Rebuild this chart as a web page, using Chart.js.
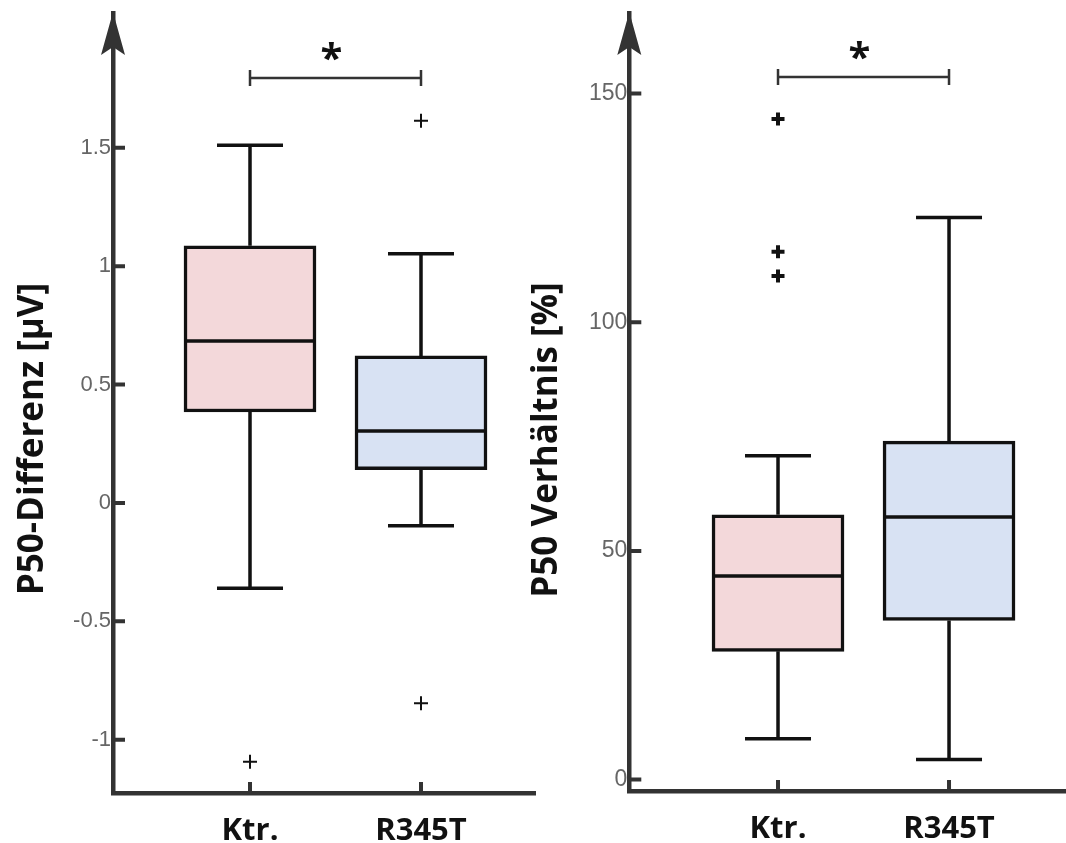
<!DOCTYPE html>
<html>
<head>
<meta charset="utf-8">
<script src="https://cdn.jsdelivr.net/npm/chart.js@4.4.0/dist/chart.umd.min.js"></script>
<style>
  body { margin: 0; background: #fff; }
  #contenedor { position: relative; width: 1066px; height: 843px; }
  canvas { position: absolute; top: 0; }
</style>
</head>
<body>
<div id="contenedor">
  <canvas id="graficoDiferencia" width="536" height="843" style="left:0"></canvas>
  <canvas id="graficoRelacion" width="546" height="843" style="left:520px"></canvas>
</div>
<script>
const grupos = ['Ktr.', 'R345T'];
const coloresCajas = ['#f3d8da', '#d8e2f3'];

// P50-Differenz [µV]
const difMinimos = [-0.36, -0.096];
const difQ1 = [0.384, 0.14];
const difMedianas = [0.684, 0.304];
const difQ3 = [1.086, 0.621];
const difMaximos = [1.51, 1.052];
const difAtipicos = [[-1.093], [1.614, -0.846]];
const difTicks = [-1, -0.5, 0, 0.5, 1, 1.5];
const difSignificancia = 1.795;

// P50 Verhältnis [%]
const relMinimos = [8.96, 4.37];
const relQ1 = [28.05, 34.8];
const relMedianas = [44.5, 57.4];
const relQ3 = [57.9, 74.0];
const relMaximos = [70.8, 122.9];
const relAtipicos = [[144.4, 115.4, 110.1], []];
const relTicks = [0, 50, 100, 150];
const relSignificancia = 153.6;

const extrasBoxplot = {
    id: 'extrasBoxplot',
    afterDatasetsDraw(chart, args, opts) {
        const ctx = chart.ctx;
        const escalaY = chart.scales.y;
        const cajas = chart.getDatasetMeta(0).data;
        ctx.save();
        ctx.strokeStyle = '#111';
        ctx.lineWidth = 3.5;
        cajas.forEach((caja, i) => {
            const cx = caja.x;
            const mitad = caja.width / 2;
            const yMed = escalaY.getPixelForValue(opts.medianas[i]);
            const yQ1 = escalaY.getPixelForValue(opts.q1[i]);
            const yQ3 = escalaY.getPixelForValue(opts.q3[i]);
            const yMin = escalaY.getPixelForValue(opts.minimos[i]);
            const yMax = escalaY.getPixelForValue(opts.maximos[i]);
            const bigote = 33;
            ctx.beginPath();
            ctx.moveTo(cx - mitad + 2, yMed);
            ctx.lineTo(cx + mitad - 2, yMed);
            ctx.moveTo(cx, yQ3);
            ctx.lineTo(cx, yMax);
            ctx.moveTo(cx - bigote, yMax);
            ctx.lineTo(cx + bigote, yMax);
            ctx.moveTo(cx, yQ1);
            ctx.lineTo(cx, yMin);
            ctx.moveTo(cx - bigote, yMin);
            ctx.lineTo(cx + bigote, yMin);
            ctx.stroke();
        });
        ctx.restore();
    },
    afterDraw(chart, args, opts) {
        const ctx = chart.ctx;
        const area = chart.chartArea;
        const escalaX = chart.scales.x;
        const escalaY = chart.scales.y;
        ctx.save();
        // marcas de los ejes hacia dentro
        ctx.strokeStyle = '#333';
        ctx.lineWidth = 4;
        ctx.beginPath();
        escalaY.ticks.forEach(t => {
            const py = escalaY.getPixelForValue(t.value);
            ctx.moveTo(area.left, py);
            ctx.lineTo(area.left + 12, py);
        });
        escalaX.ticks.forEach(t => {
            const px = escalaX.getPixelForValue(t.value);
            ctx.moveTo(px, area.bottom);
            ctx.lineTo(px, area.bottom - 11);
        });
        ctx.stroke();
        // flecha del eje y
        ctx.fillStyle = '#333';
        ctx.beginPath();
        ctx.moveTo(area.left, area.top - 1);
        ctx.lineTo(area.left + 12, area.top + 42);
        ctx.lineTo(area.left, area.top + 34);
        ctx.lineTo(area.left - 12, area.top + 42);
        ctx.closePath();
        ctx.fill();
        // corchete de significancia
        const x1 = escalaX.getPixelForValue(1);
        const x2 = escalaX.getPixelForValue(2);
        const yc = escalaY.getPixelForValue(opts.significancia);
        ctx.strokeStyle = '#333';
        ctx.lineWidth = 2.5;
        ctx.beginPath();
        ctx.moveTo(x1, yc);
        ctx.lineTo(x2, yc);
        ctx.moveTo(x1, yc - 8);
        ctx.lineTo(x1, yc + 8);
        ctx.moveTo(x2, yc - 8);
        ctx.lineTo(x2, yc + 8);
        ctx.stroke();
        ctx.fillStyle = '#111';
        ctx.font = 'bold 40px "Open Sans"';
        ctx.textAlign = 'center';
        ctx.textBaseline = 'alphabetic';
        ctx.fillText('*', (x1 + x2) / 2 - 4, yc - 6);
        // titulo del eje y
        ctx.translate(opts.tituloX, opts.tituloY);
        ctx.rotate(-Math.PI / 2);
        ctx.font = 'bold 35px "Open Sans"';
        ctx.fillText(opts.titulo, 0, 0);
        ctx.restore();
    }
};

function crearBoxplot(idChart, datos) {
    let elementoDOM = document.getElementById(idChart).getContext('2d');
    let cajas = grupos.map((g, i) => ({x: i + 1, y: [datos.q1[i], datos.q3[i]]}));
    let puntos = [];
    datos.atipicos.forEach((lista, i) => {
        lista.forEach(v => puntos.push({x: i + 1, y: v}));
    });
    return new Chart(elementoDOM, {
        type: 'bar',
        data: {
            datasets: [{
                data: cajas,
                backgroundColor: coloresCajas,
                borderColor: '#111',
                borderWidth: 3.5,
                borderSkipped: false,
                barThickness: 132,
                grouped: false
            }, {
                type: 'scatter',
                data: puntos,
                pointStyle: 'cross',
                pointRadius: datos.radioPunto,
                borderColor: '#111',
                borderWidth: datos.grosorPunto,
                backgroundColor: '#111'
            }]
        },
        options: {
            responsive: false,
            animation: false,
            layout: {autoPadding: false, padding: {top: 13, right: 0, left: 0, bottom: 0}},
            plugins: {
                legend: {display: false},
                tooltip: {enabled: false},
                extrasBoxplot: {
                    minimos: datos.minimos,
                    q1: datos.q1,
                    medianas: datos.medianas,
                    q3: datos.q3,
                    maximos: datos.maximos,
                    significancia: datos.significancia,
                    titulo: datos.titulo,
                    tituloX: datos.tituloX,
                    tituloY: datos.tituloY
                }
            },
            scales: {
                x: {
                    type: 'linear',
                    offset: false,
                    min: datos.xMin,
                    max: datos.xMax,
                    afterBuildTicks: s => { s.ticks = grupos.map((g, i) => ({value: i + 1})); },
                    afterFit: s => { s.height = datos.altoEjeX; s.paddingLeft = 0; s.paddingRight = 0; },
                    grid: {display: false, drawTicks: false, offset: false},
                    border: {display: true, color: '#333', width: 4.5},
                    ticks: {
                        padding: 20,
                        color: '#111',
                        font: {family: 'Open Sans', weight: 'bold', size: 31},
                        callback: v => grupos[v - 1]
                    }
                },
                y: {
                    min: datos.yMin,
                    max: datos.yMax,
                    afterBuildTicks: s => { s.ticks = datos.ticks.map(v => ({value: v})); },
                    afterFit: s => { s.width = datos.anchoEjeY; s.paddingTop = 0; s.paddingBottom = 0; },
                    grid: {display: false, drawTicks: false},
                    border: {display: true, color: '#333', width: 4.5},
                    ticks: {
                        padding: 2,
                        color: '#666',
                        font: {family: 'Liberation Sans', size: datos.tamanoTicks},
                        callback: v => String(v)
                    }
                }
            }
        },
        plugins: [extrasBoxplot]
    });
}

crearBoxplot('graficoDiferencia', {
    minimos: difMinimos, q1: difQ1, medianas: difMedianas, q3: difQ3, maximos: difMaximos,
    atipicos: difAtipicos, ticks: difTicks, significancia: difSignificancia,
    titulo: 'P50-Differenz [µV]', tituloX: 43, tituloY: 439,
    xMin: 0.1988, xMax: 2.6725, yMin: -1.225, yMax: 2.069,
    anchoEjeY: 113, altoEjeX: 50, tamanoTicks: 22, radioPunto: 7, grosorPunto: 2
});

crearBoxplot('graficoRelacion', {
    minimos: relMinimos, q1: relQ1, medianas: relMedianas, q3: relQ3, maximos: relMaximos,
    atipicos: relAtipicos, ticks: relTicks, significancia: relSignificancia,
    titulo: 'P50 Verhältnis [%]', tituloX: 37, tituloY: 440,
    xMin: 0.1304, xMax: 2.684, yMin: -2.49, yMax: 167.6,
    anchoEjeY: 109.3, altoEjeX: 52, tamanoTicks: 23, radioPunto: 6.5, grosorPunto: 4
});
</script>
</body>
</html>
